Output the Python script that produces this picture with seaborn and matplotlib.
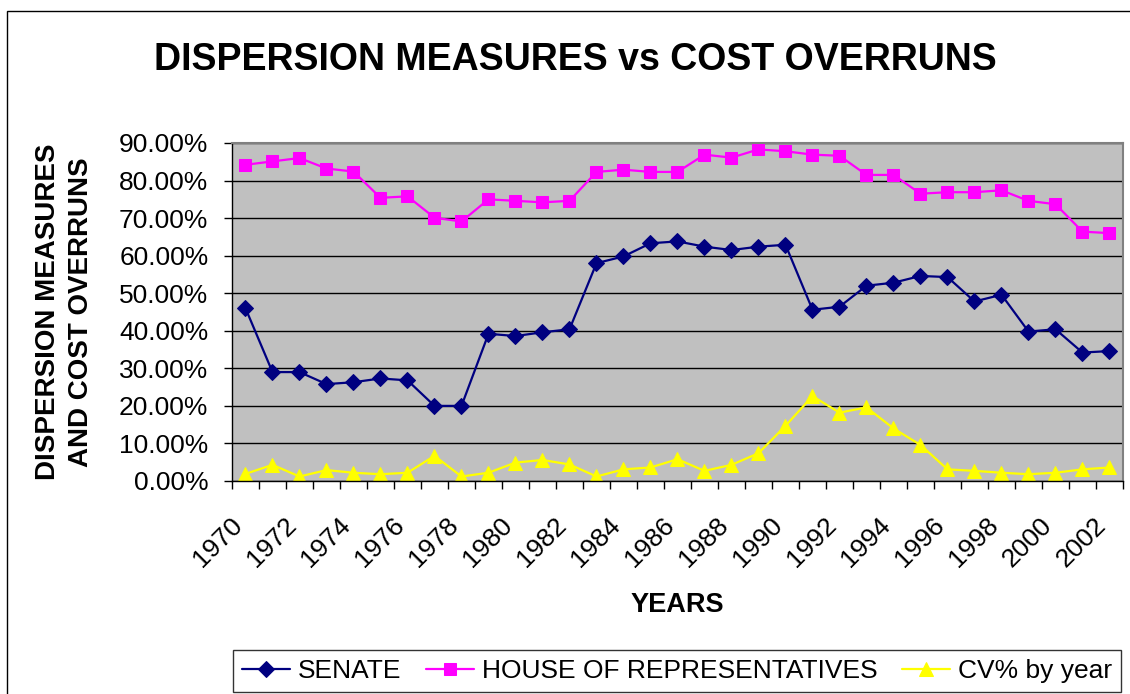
import matplotlib
matplotlib.use('Agg')
import matplotlib.pyplot as plt
import matplotlib.transforms as mtransforms
from matplotlib.patches import Rectangle
from matplotlib.ticker import PercentFormatter, MultipleLocator
import pandas as pd
import seaborn as sns

## data (percent values)
years = list(range(1970, 2003))
senate = [46.0, 29.0, 29.0, 25.8, 26.3, 27.3, 26.8, 20.0, 20.0, 39.2, 38.6, 39.6,
          40.4, 58.0, 59.8, 63.3, 63.8, 62.4, 61.5, 62.4, 62.9, 45.6, 46.4, 52.0,
          52.8, 54.6, 54.3, 47.8, 49.6, 39.8, 40.4, 34.2, 34.6]
house = [84.2, 85.1, 86.0, 83.2, 82.4, 75.4, 75.8, 70.1, 69.1, 75.0, 74.6, 74.2,
         74.6, 82.3, 82.9, 82.3, 82.3, 86.9, 86.1, 88.3, 87.8, 86.9, 86.6, 81.5,
         81.5, 76.5, 76.9, 76.9, 77.4, 74.6, 73.7, 66.4, 66.0]
cv = [1.9, 4.3, 1.2, 2.9, 2.2, 1.8, 2.2, 6.7, 1.2, 2.2, 4.9, 5.6,
      4.4, 1.2, 3.1, 3.6, 5.8, 2.7, 4.3, 7.4, 14.7, 22.6, 18.2, 19.6,
      14.0, 9.6, 3.1, 2.7, 2.2, 1.8, 2.2, 3.1, 3.6]
tick_years = years[::2]

df = pd.DataFrame({'year': years, 'SENATE': senate,
                   'HOUSE OF REPRESENTATIVES': house, 'CV% by year': cv})

sns.set_style('white')
plt.rcParams['font.family'] = ['Liberation Sans', 'DejaVu Sans']
plt.rcParams['text.color'] = 'black'
plt.rcParams['axes.labelcolor'] = 'black'
plt.rcParams['xtick.color'] = 'black'
plt.rcParams['ytick.color'] = 'black'

fig = plt.figure(figsize=(11.3, 6.94), dpi=100)
ax = fig.add_axes([232 / 1130, 1 - 481 / 694, 891 / 1130, 338 / 694])
ax.set_facecolor('#C0C0C0')

styles = [('SENATE', '#000080', 'D', 8),
          ('HOUSE OF REPRESENTATIVES', '#FF00FF', 's', 8),
          ('CV% by year', '#FFFF00', '^', 10)]
for name, col, mk, ms in styles:
    sns.lineplot(data=df, x='year', y=name, ax=ax, color=col, marker=mk,
                 markersize=ms, markeredgecolor=col, linewidth=1.6, label=name)

ax.set_xlim(1969.5, 2002.5)
ax.set_ylim(0, 90)
ax.yaxis.set_major_locator(MultipleLocator(10))
ax.yaxis.set_major_formatter(PercentFormatter(xmax=100, decimals=2))
ax.yaxis.grid(True, color='black', linewidth=1)
ax.xaxis.grid(False)

ax.set_xticks(tick_years)
ax.set_xticklabels([str(y) for y in tick_years], rotation=45, ha='right',
                   va='center', rotation_mode='anchor')
ax.set_xticks([y - 0.5 for y in years] + [2002.5], minor=True)
ax.tick_params(axis='x', which='major', length=0, pad=29, labelsize=19)
ax.tick_params(axis='x', which='minor', bottom=True, length=6, width=1,
               direction='out', color='black')
ax.tick_params(axis='y', which='major', left=True, length=6, width=1,
               direction='out', color='black', pad=11, labelsize=19)
shift = mtransforms.ScaledTranslation(-7 / 100, 0, fig.dpi_scale_trans)
for lab in ax.get_xticklabels():
    lab.set_transform(lab.get_transform() + shift)

for side in ['left', 'bottom']:
    ax.spines[side].set_color('black')
    ax.spines[side].set_linewidth(1)
for side in ['top', 'right']:
    ax.spines[side].set_color('#808080')
    ax.spines[side].set_linewidth(1.5)

ax.set_xlabel('YEARS', fontsize=19.5, fontweight='bold', va='baseline')
ax.xaxis.set_label_coords(0.5, (481 - 612) / 338)
ax.set_ylabel('DISPERSION MEASURES\nAND COST OVERRUNS', fontsize=20,
              fontweight='bold', ha='center', va='center', linespacing=1.35)
ax.yaxis.set_label_coords((65 - 232) / 891, 0.5)

fig.text(575 / 1130, 1 - 70 / 694, 'DISPERSION MEASURES vs COST OVERRUNS',
         fontsize=27, fontweight='bold', ha='center', va='baseline')

ax.get_legend().remove()
handles, labels = ax.get_legend_handles_labels()
leg = fig.legend(handles, labels, loc='center', ncol=3,
                 bbox_to_anchor=(677 / 1130, 1 - 671 / 694), fontsize=19,
                 frameon=True, fancybox=False, edgecolor='black',
                 handlelength=1.8, handletextpad=0.3, columnspacing=0.95,
                 borderpad=0.35, borderaxespad=0)
leg.get_frame().set_linewidth(1)

# chart area border
fig.patches.append(Rectangle((7 / 1130, -0.1), 1.2, 1.1 - 11 / 694,
                             transform=fig.transFigure, fill=False,
                             edgecolor='black', linewidth=1))

fig.savefig('out.png', dpi=100)
